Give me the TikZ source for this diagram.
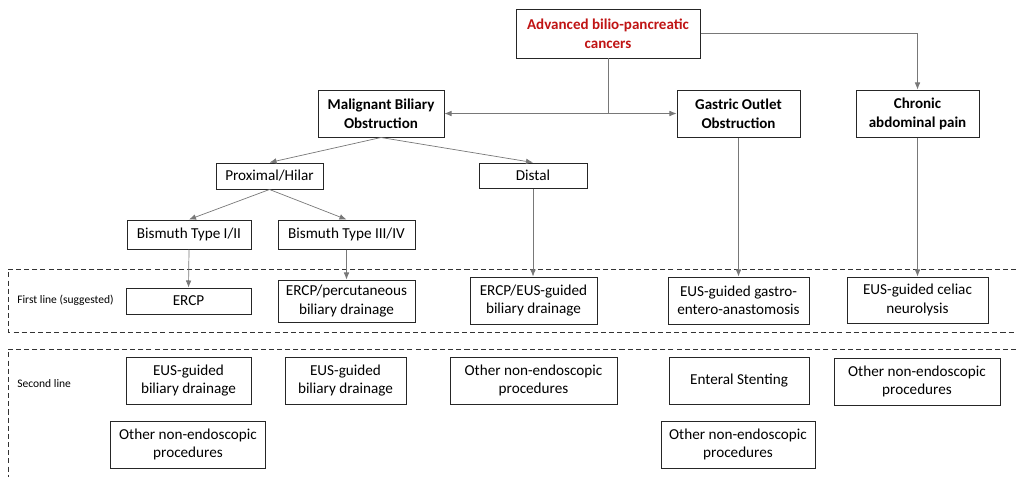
\documentclass[tikz,border=0pt]{standalone}
\usepackage{fontspec}
\setmainfont{Carlito}
\usetikzlibrary{arrows.meta}
\definecolor{cancerred}{RGB}{192,20,20}
\definecolor{linegray}{RGB}{120,120,120}
\newcommand{\pxu}{0.025cm}
\tikzset{
  box/.style={draw=black!85,line width=0.7pt,fill=white,inner sep=1pt,align=center,
    font=\fontsize{10.8}{13}\selectfont},
  wh/.style 2 args={minimum width=#1*\pxu,minimum height=#2*\pxu},
  headbox/.style={box,font=\fontsize{10.7}{13.5}\selectfont\bfseries,wh={123}{47}},
  conn/.style={draw=linegray,line width=0.5pt,-{Latex[length=5pt,width=4pt]}},
  band/.style={draw=black!80,line width=0.6pt,dash pattern=on 3.6pt off 2.2pt},
  rowlabel/.style={anchor=west,inner sep=0,font=\fontsize{8.2}{10}\selectfont}
}

\begin{document}
\begin{tikzpicture}[x=0.025cm,y=-0.025cm]
\useasboundingbox (0,0) rectangle (1016,476);
% first and second line bands
\draw[band] (1016,269) -- (8,269) -- (8,332) -- (1016,332);
\draw[band] (1016,349) -- (8,349) -- (8,480);
\node[rowlabel] (lfirst) at (17,300) {First line (suggested)};
\node[rowlabel] (lsecond) at (17,384) {Second line};

% top level
\node[headbox,text=cancerred,wh={184}{49}] (adv) at (608,33.5) {Advanced bilio-pancreatic\\cancers};
\node[headbox,wh={126}{47}] (mbo) at (381,113.5) {Malignant Biliary\\Obstruction};
\node[headbox] (goo) at (738.5,113.5) {Gastric Outlet\\Obstruction};
\node[headbox] (cap) at (917.5,113.5) {Chronic\\abdominal pain};

% biliary branches
\node[box,wh={107}{26}] (prox) at (269.5,176) {Proximal/Hilar};
\node[box,wh={108}{25}] (dist) at (533,175.5) {Distal};
\node[box,wh={124}{29}] (bis12) at (189,234.5) {Bismuth Type I/II};
\node[box,wh={137}{29}] (bis34) at (346.5,234.5) {Bismuth Type III/IV};

% first line
\node[box,wh={125}{26}] (ercp) at (188.5,301) {ERCP};
\node[box,wh={137}{42}] (ercpperc) at (346.5,301) {ERCP/percutaneous\\biliary drainage};
\node[box,wh={127}{47}] (ercpeus) at (533.5,300.5) {ERCP/EUS-guided\\biliary drainage};
\node[box,wh={141}{47}] (eusgea) at (738.5,300.5) {EUS-guided gastro-\\entero-anastomosis};
\node[box,wh={141}{46}] (celiac) at (917.5,300) {EUS-guided celiac\\neurolysis};

% second line
\node[box,wh={125}{47}] (ebdA) at (188.5,380.5) {EUS-guided\\biliary drainage};
\node[box,wh={121}{47}] (ebdB) at (345.5,380.5) {EUS-guided\\biliary drainage};
\node[box,wh={167}{47}] (otherC) at (533.5,380.5) {Other non-endoscopic\\procedures};
\node[box,wh={140}{47}] (enteral) at (739,380.5) {Enteral Stenting};
\node[box,wh={166}{47}] (otherE) at (917,381.5) {Other non-endoscopic\\procedures};
\node[box,wh={155}{47}] (otherA) at (188,444.5) {Other non-endoscopic\\procedures};
\node[box,wh={154}{47}] (otherD) at (738,444.5) {Other non-endoscopic\\procedures};

% connectors
\coordinate (split) at (adv.south |- mbo.east);
\draw[conn,-] (adv.south) -- (split);
\draw[conn,{Latex[length=5pt,width=4pt]}-{Latex[length=5pt,width=4pt]}] (mbo.east) -- (goo.west);
\draw[conn] (adv.east) -| (cap.north);
\draw[conn] (mbo.south) -- (prox.north);
\draw[conn] (mbo.south) -- (dist.north);
\draw[conn] (prox.south) -- (bis12.north);
\draw[conn] (prox.south) -- (bis34.north);
\draw[conn] (bis12.south) -- (ercp.north);
\draw[conn] (bis34.south) -- (ercpperc.north);
\draw[conn] (dist.south) -- (dist.south |- ercpeus.north);
\draw[conn] (goo.south) -- (eusgea.north);
\draw[conn] (cap.south) -- (celiac.north);
\end{tikzpicture}
\end{document}
